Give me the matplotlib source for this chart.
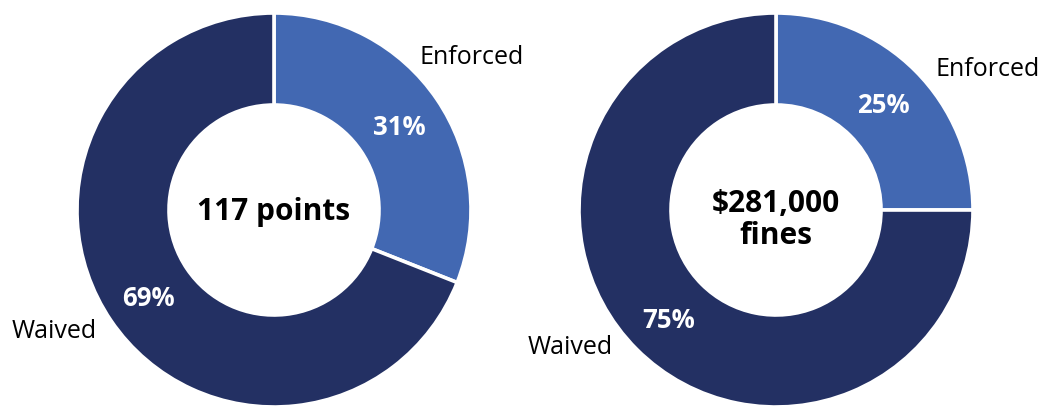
import matplotlib.pyplot as plt

# Enforced vs waived shares
labels = ['Enforced', 'Waived']
points_share = [31, 69]
fines_share = [25, 75]
points_total = '117 points'
fines_total = '$281,000\nfines'

colors = ['#4268B2', '#233063']

W, H = 1042, 407
plt.rcParams['font.family'] = ['Open Sans', 'DejaVu Sans']

fig = plt.figure(figsize=(W / 100, H / 100), dpi=100)
ax = fig.add_axes([0, 0, 1, 1])

R, ring = 197, 92


def donut(values, cx, cy, center_text, text_y, name_pos):
    _, _, pcts = ax.pie(values, colors=colors, center=(cx, H - cy), radius=R,
                        startangle=90, counterclock=False, autopct='%d%%',
                        pctdistance=0.77, frame=True,
                        wedgeprops=dict(width=ring, edgecolor='white', linewidth=2.6),
                        textprops=dict(color='white', fontsize=18.5, fontweight='bold'))
    for t in pcts:
        t.set_va('center_baseline')
    ax.text(cx, H - text_y, center_text, ha='center', va='center',
            fontsize=21.5, fontweight='bold', linespacing=1.05)
    for name, (x, y, ha) in zip(labels, name_pos):
        ax.text(x, H - y, name, ha=ha, va='center', fontsize=18, color='black')


donut(points_share, 274, 210, points_total, 212,
      [(420, 57, 'left'), (97, 332, 'right')])
donut(fines_share, 776, 210, fines_total, 220,
      [(935, 70, 'left'), (613, 347, 'right')])

ax.set_xlim(0, W)
ax.set_ylim(0, H)
ax.set_aspect('equal')
ax.axis('off')

fig.savefig('out.png', dpi=100, facecolor='white')
